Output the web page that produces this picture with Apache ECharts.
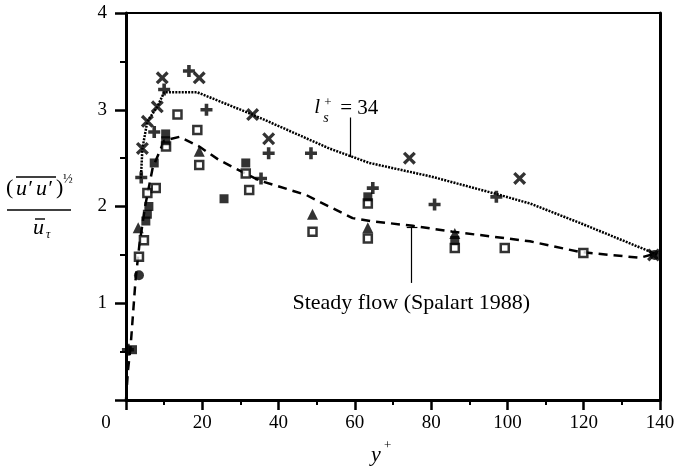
<!DOCTYPE html>
<html><head><meta charset="utf-8">
<script src="https://cdn.jsdelivr.net/npm/echarts/dist/echarts.min.js"></script>
<style>html,body{margin:0;padding:0;background:#fff}#c{width:678px;height:474px}</style>
</head><body><div id="c"></div>
<script>
// ---- data ----
const xTicks = [0, 20, 40, 60, 80, 100, 120, 140];
const yTicks = [0, 1, 2, 3, 4];
const steadyFlow = [[0,0],[0.5,0.3],[1.2,0.55],[2.5,1.24],[3.5,1.6],[5,2.0],[7,2.4],[10,2.68],[14,2.72],[19.2,2.62],[24.4,2.48],[34.9,2.27],[47.2,2.12],[50.7,2.05],[59.4,1.88],[64,1.85],[75.2,1.80],[85.6,1.74],[105.9,1.64],[119,1.53],[134.7,1.47],[139.5,1.52]];
const ls34 = [[3.9,2.29],[4.3,2.6],[5.6,2.88],[8.2,3.03],[10,3.18],[18.7,3.18],[33.2,2.95],[53.3,2.6],[63.8,2.45],[80,2.31],[97,2.13],[106,2.03],[119,1.83],[139.5,1.5]];
const crosses = [[9.5,3.33],[19.2,3.33],[8.2,3.03],[5.6,2.88],[4.3,2.60],[33.2,2.95],[37.4,2.70],[74.3,2.50],[103.2,2.29],[138.3,1.50]];
const pluses = [[16.5,3.40],[10,3.21],[21.1,3.0],[7.4,2.77],[37.4,2.55],[48.5,2.55],[35.4,2.29],[4,2.3],[64.7,2.19],[80.9,2.02],[97.1,2.10],[0.5,0.52]];
const openSquares = [[13.5,2.95],[18.7,2.79],[10.5,2.62],[19.2,2.43],[31.4,2.34],[32.3,2.17],[5.6,2.14],[7.8,2.19],[4.7,1.65],[3.4,1.48],[48.9,1.74],[63.4,2.03],[63.4,1.67],[86.2,1.57],[99.3,1.57],[119.9,1.52]];
const filledSquares = [[10.4,2.75],[10.4,2.68],[7.4,2.45],[31.4,2.45],[25.7,2.08],[63.4,2.10],[1.7,0.52],[6,2.0],[5.6,1.92],[5.2,1.85],[86.2,1.65]];
const triangles = [[19.2,2.57],[48.9,1.92],[63.4,1.78],[86.2,1.72],[3.2,1.78]];
const circles = [[3.4,1.29],[138.6,1.5]];

const SERIF = 'Liberation Serif';
const PLUS = 'path://M3.5,0H6.5V3.5H10V6.5H6.5V10H3.5V6.5H0V3.5H3.5Z';
const CROSS = 'path://M0,1.8L1.8,0L5,3.2L8.2,0L10,1.8L6.8,5L10,8.2L8.2,10L5,6.8L1.8,10L0,8.2L3.2,5Z';

const chart = echarts.init(document.getElementById('c'), null, {renderer: 'canvas'});
const axisLabelX = {
  color: '#000', fontFamily: SERIF, fontSize: 19, margin: 14,
  formatter: v => v === 0 ? '{z|0}' : String(v),
  rich: {z: {fontFamily: SERIF, fontSize: 19, color: '#000', padding: [0, 40, 0, 0]}}
};
const option = {
  animation: false,
  backgroundColor: '#fff',
  grid: {left: 126, right: 18, top: 13, bottom: 74},
  xAxis: [{
    type: 'value', min: xTicks[0], max: xTicks[xTicks.length - 1], interval: xTicks[1] - xTicks[0],
    axisLine: {show: true, onZero: false, lineStyle: {color: '#000', width: 3}},
    axisTick: {show: true, length: 10, lineStyle: {color: '#000', width: 2.5}},
    minorTick: {show: true, splitNumber: 2, length: 5, lineStyle: {color: '#000', width: 2}},
    splitLine: {show: false}, minorSplitLine: {show: false},
    axisLabel: axisLabelX
  }, {
    type: 'value', position: 'top', min: 0, max: 140,
    axisLine: {show: true, onZero: false, lineStyle: {color: '#000', width: 2}},
    axisTick: {show: false}, axisLabel: {show: false}, splitLine: {show: false}
  }],
  yAxis: [{
    type: 'value', min: yTicks[0], max: yTicks[yTicks.length - 1], interval: yTicks[1] - yTicks[0],
    axisLine: {show: true, onZero: false, lineStyle: {color: '#000', width: 3}},
    axisTick: {show: true, length: 11, lineStyle: {color: '#000', width: 2.5}},
    minorTick: {show: true, splitNumber: 2, length: 6, lineStyle: {color: '#000', width: 2}},
    splitLine: {show: false},
    axisLabel: {color: '#000', fontFamily: SERIF, fontSize: 19, margin: 19,
      formatter: v => v === 0 ? '' : String(v)}
  }, {
    type: 'value', position: 'right', min: 0, max: 4,
    axisLine: {show: true, onZero: false, lineStyle: {color: '#000', width: 3}},
    axisTick: {show: false}, axisLabel: {show: false}, splitLine: {show: false}
  }],
  series: [
    {type: 'line', name: 'steady', data: steadyFlow, symbol: 'none', z: 2,
     lineStyle: {color: '#000', width: 2.5, type: [9, 6]},
     markLine: {silent: true, symbol: 'none', label: {show: false},
       lineStyle: {color: '#000', width: 1.2, type: 'solid'},
       data: [[{coord: [74.8, 1.21]}, {coord: [74.8, 1.79]}], [{coord: [73.6, 1.79]}, {coord: [76.4, 1.79]}]]}},
    {type: 'line', name: 'ls34', data: ls34, symbol: 'none', z: 2,
     lineStyle: {color: '#000', width: 2.5, type: [2, 1.2]},
     markLine: {silent: true, symbol: 'none', label: {show: false},
       lineStyle: {color: '#000', width: 1.2, type: 'solid'},
       data: [[{coord: [58.8, 2.51]}, {coord: [58.8, 2.92]}]]}},
    {type: 'scatter', data: openSquares, symbol: 'rect', symbolSize: 8, z: 3,
     itemStyle: {color: '#fff', borderColor: '#000', borderWidth: 2.5}},
    {type: 'scatter', data: filledSquares, symbol: 'rect', symbolSize: 9, z: 4, itemStyle: {color: '#000'}},
    {type: 'scatter', data: triangles, symbol: 'triangle', symbolSize: 11, z: 4, itemStyle: {color: '#000'}},
    {type: 'scatter', data: circles, symbol: 'circle', symbolSize: 10, z: 4, itemStyle: {color: '#000'}},
    {type: 'scatter', data: pluses, symbol: PLUS, symbolSize: 12, z: 5, itemStyle: {color: '#000'}},
    {type: 'scatter', data: crosses, symbol: CROSS, symbolSize: 13, z: 5, itemStyle: {color: '#000'}}
  ]
};
chart.setOption(option);

const p1 = chart.convertToPixel({gridIndex: 0}, [58.8, 2.92]);
const p2 = chart.convertToPixel({gridIndex: 0}, [74.8, 1.21]);
const txt = (x, y, s, size, italic, extra) => ({
  type: 'text', x: x, y: y, silent: true,
  style: Object.assign({text: s, fill: '#000', fontFamily: SERIF, fontSize: size,
    fontStyle: italic ? 'italic' : 'normal', verticalAlign: 'middle'}, extra || {})
});
const ln = (x1, y1, x2, y2, w) => ({type: 'line', silent: true,
  shape: {x1: x1, y1: y1, x2: x2, y2: y2}, style: {stroke: '#000', lineWidth: w}});

chart.setOption({graphic: [
  // l_s^+ = 34
  txt(p1[0] - 36, p1[1] - 10, 'l', 21, true),
  txt(p1[0] - 26, p1[1] - 15, '+', 13, false),
  txt(p1[0] - 27, p1[1] + 1, 's', 14, true),
  txt(p1[0] - 10, p1[1] - 9, '= 34', 21, false),
  // Steady flow label
  txt(p2[0], p2[1] + 20, 'Steady flow (Spalart 1988)', 22, false, {align: 'center'}),
  // x axis name y+
  txt(371, 455, 'y', 22, true),
  txt(384, 446, '+', 13, false),
  // y axis title: (u'u')^(1/2) / u_tau
  txt(6, 188, '(', 22, false),
  txt(16, 189, 'u\u2032', 22, true),
  txt(36, 189, 'u\u2032', 22, true),
  txt(56, 188, ')', 22, false),
  ln(16, 177, 56, 177, 1.4),
  txt(63, 180, '\u00BD', 13, false),
  ln(7, 210, 71, 210, 1.4),
  txt(33, 228, 'u', 22, true),
  ln(35, 219, 45, 219, 1.4),
  txt(46, 235, '\u03C4', 12, true)
]});
</script>
</body></html>
